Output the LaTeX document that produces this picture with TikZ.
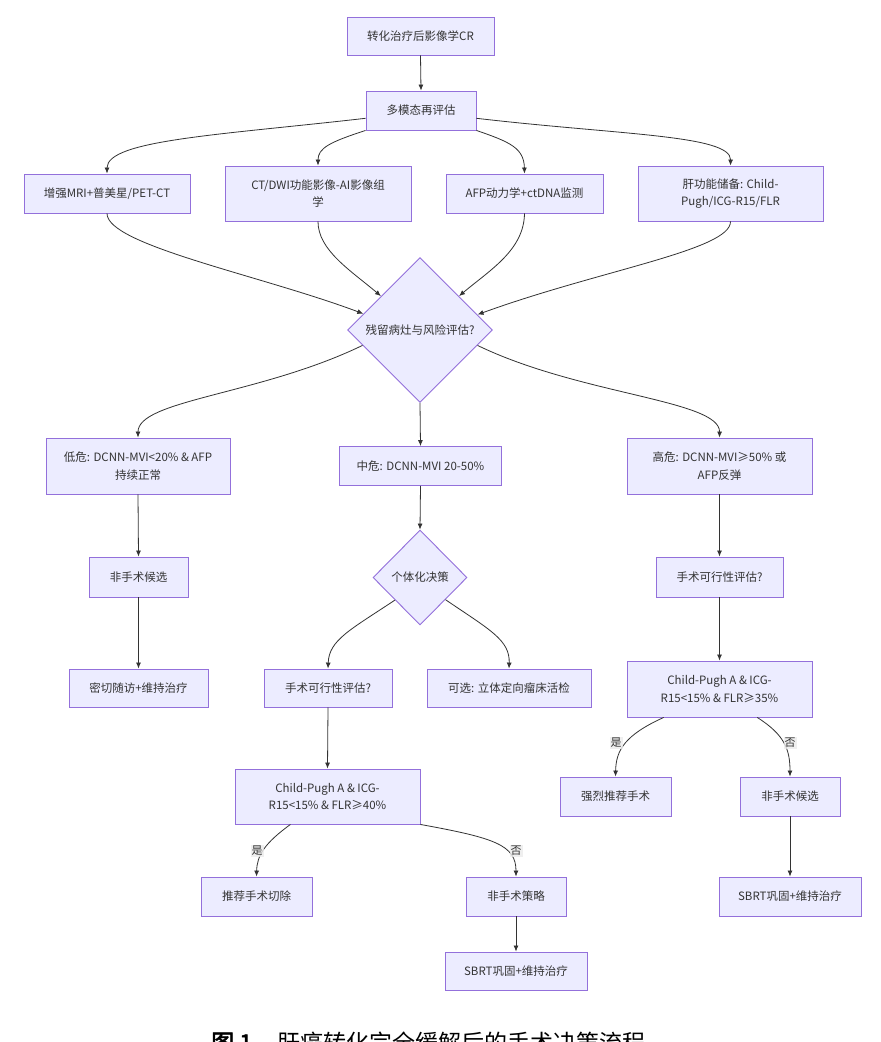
\documentclass[tikz,border=0pt]{standalone}
\usepackage{fontspec}
\setmainfont{Noto Sans CJK SC}
\newfontfamily\capbold{Noto Sans CJK SC}[FakeBold=2.5]
\usetikzlibrary{shapes.geometric,arrows.meta}
\definecolor{nodefill}{RGB}{236,236,255}
\definecolor{nodedraw}{RGB}{147,112,219}
\definecolor{txt}{RGB}{51,51,51}
\definecolor{edgec}{RGB}{51,51,51}
\definecolor{labbg}{RGB}{236,236,236}
\begin{document}
\begin{tikzpicture}[x=1pt,y=-1pt,
  box/.style={rectangle,draw=nodedraw,fill=nodefill,line width=0.9pt,inner sep=0pt,align=center,text=txt,font=\fontsize{11.5}{17.5}\selectfont},
  dia/.style={diamond,shape aspect=1,draw=nodedraw,fill=nodefill,line width=0.9pt,inner sep=0pt,align=center,text=txt,font=\fontsize{11.5}{17.5}\selectfont},
  arr/.style={draw=edgec,line width=0.8pt,-{Latex[length=6pt,width=5pt]}},
  lab/.style={fill=labbg,fill opacity=0.8,text opacity=1,inner sep=1pt,text=txt,font=\fontsize{11}{13}\selectfont}
]
\clip (0,0) rectangle (881,1042);
\fill[white] (0,0) rectangle (881,1042);

% nodes
\node[box,minimum width=147pt,minimum height=38pt] (A) at (420.5,36) {转化治疗后影像学CR};
\node[box,minimum width=110pt,minimum height=39pt] (B) at (421,110.5) {多模态再评估};
\node[box,minimum width=166pt,minimum height=39pt] (C1) at (107,193.5) {增强MRI+普美星/PET-CT};
\node[box,minimum width=186pt,minimum height=55pt] (C2) at (318,193.5) {CT/DWI功能影像-AI影像组\\学};
\node[box,minimum width=157pt,minimum height=39pt] (C3) at (524.5,193.5) {AFP动力学+ctDNA监测};
\node[box,minimum width=185pt,minimum height=55pt] (C4) at (730.5,193.5) {肝功能储备: Child-\\Pugh/ICG-R15/FLR};
\node[dia,minimum width=145pt,minimum height=145pt] (D1) at (420,330) {残留病灶与风险评估?};
\node[box,minimum width=184pt,minimum height=56pt] (E1) at (138,466) {低危: DCNN-MVI<20\% \& AFP\\持续正常};
\node[box,minimum width=162pt,minimum height=39pt] (E2) at (420.5,466) {中危: DCNN-MVI 20-50\%};
\node[box,minimum width=185pt,minimum height=56pt] (E3) at (719.5,466) {高危: DCNN-MVI≥50\% 或\\AFP反弹};
\node[box,minimum width=99pt,minimum height=40pt] (F1) at (138.5,577) {非手术候选};
\node[dia,minimum width=94pt,minimum height=95pt] (D2) at (420,577.5) {个体化决策};
\node[box,minimum width=127pt,minimum height=40pt] (F3) at (719.5,577) {手术可行性评估?};
\node[box,minimum width=139pt,minimum height=38pt] (G1) at (138.5,688) {密切随访+维持治疗};
\node[box,minimum width=128pt,minimum height=38pt] (G2) at (328,688) {手术可行性评估?};
\node[box,minimum width=164pt,minimum height=38pt] (G3) at (509,688) {可选: 立体定向瘤床活检};
\node[box,minimum width=185pt,minimum height=56pt] (G4) at (719.5,689) {Child-Pugh A \& ICG-\\R15<15\% \& FLR≥35\%};
\node[box,minimum width=111pt,minimum height=39pt] (H1) at (615.5,796.5) {强烈推荐手术};
\node[box,minimum width=100pt,minimum height=39pt] (H2) at (790,796.5) {非手术候选};
\node[box,minimum width=185pt,minimum height=55pt] (M) at (327.5,796.5) {Child-Pugh A \& ICG-\\R15<15\% \& FLR≥40\%};
\node[box,minimum width=111pt,minimum height=39pt] (I1) at (256.5,896.5) {推荐手术切除};
\node[box,minimum width=100pt,minimum height=39pt] (I2) at (516,896.5) {非手术策略};
\node[box,minimum width=142pt,minimum height=39pt] (I3) at (790,896.5) {SBRT巩固+维持治疗};
\node[box,minimum width=142pt,minimum height=38pt] (J) at (516,971) {SBRT巩固+维持治疗};

% edges
\draw[arr] (A.south) -- (B.north);
\draw[arr] (B.188) .. controls (220,135) and (107,140) .. (C1.north);
\draw[arr] (B.south west) .. controls (330,142) and (318,148) .. (C2.north);
\draw[arr] (B.south east) .. controls (510,142) and (524,148) .. (C3.north);
\draw[arr] (B.352) .. controls (620,135) and (731,135) .. (C4.north);
\draw[arr] (C1.south) .. controls (107,245) and (260,275) .. (D1.164);
\draw[arr] (C2.south) .. controls (318,250) and (350,270) .. (D1.139);
\draw[arr] (C3.south) .. controls (524,250) and (490,270) .. (D1.41);
\draw[arr] (C4.south) .. controls (731,250) and (600,270) .. (D1.15);
\draw[arr] (D1.195) .. controls (260,395) and (138,400) .. (E1.north);
\draw[arr] (D1.south) -- (E2.north);
\draw[arr] (D1.345) .. controls (580,395) and (720,400) .. (E3.north);
\draw[arr] (E1.south) -- (F1.north);
\draw[arr] (E2.south) -- (D2.north);
\draw[arr] (E3.south) -- (F3.north);
\draw[arr] (F1.south) -- (G1.north);
\draw[arr] (D2.222) .. controls (350,630) and (329,640) .. (G2.north);
\draw[arr] (D2.319) .. controls (490,630) and (510,640) .. (G3.north);
\draw[arr] (F3.south) -- (G4.north);
\draw[arr] (G4.207) .. controls (625,735) and (616,750) .. (H1.north);
\draw[arr] (G4.323) .. controls (785,735) and (790,750) .. (H2.north);
\draw[arr] (H2.south) -- (I3.north);
\draw[arr] (G2.south) -- (M.north);
\draw[arr] (M.217) .. controls (265,843) and (257,855) .. (I1.north);
\draw[arr] (M.south east) .. controls (495,838) and (516,845) .. (I2.north);
\draw[arr] (I2.south) -- (J.north);

% edge labels
\node[lab] (l1) at (616,743) {是};
\node[lab] (l2) at (790,743) {否};
\node[lab] (l3) at (257,851) {是};
\node[lab] (l4) at (516,851) {否};

% caption (cut off at bottom)
\node[anchor=base west,inner sep=0pt,font=\capbold\fontsize{23}{26}\selectfont] (cap1) at (211,1051) {图 1};
\node[anchor=base west,inner sep=0pt,font=\fontsize{23}{26}\selectfont] (cap2) at (277,1051) {肝癌转化完全缓解后的手术决策流程};
\end{tikzpicture}
\end{document}
